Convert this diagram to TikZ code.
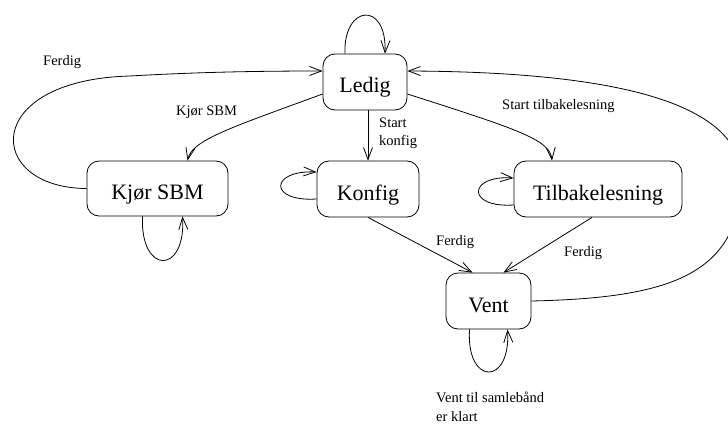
\documentclass[tikz,border=0pt]{standalone}
\usepackage{fontspec}
\setmainfont{Liberation Serif}
\usetikzlibrary{arrows.meta,calc}

\tikzset{
  state/.style={draw, line width=0.8pt, rounded corners=12pt, inner sep=0pt,
    text height=22pt, text depth=0pt,
    font=\fontsize{22}{26}\selectfont},
  lbl/.style={inner sep=0pt, anchor=base west, align=left,
    font=\fontsize{14.5}{18.5}\selectfont},
  edge/.style={line width=0.8pt, -{Straight Barb[length=12pt,width=9pt,line width=0.8pt]}},
}

\begin{document}
\begin{tikzpicture}[x=1pt,y=-1pt]
  \clip (0,0) rectangle (728,425);
  \fill[white] (0,0) rectangle (728,425);

  % states
  \node[state, minimum width=84pt,  minimum height=56pt] (ledig) at (365,82)    {Ledig};
  \node[state, minimum width=141pt, minimum height=55pt] (sbm)   at (157.5,188.5) {Kjør SBM};
  \node[state, minimum width=102pt, minimum height=56pt] (konf)  at (368,189)   {Konfig};
  \node[state, minimum width=168pt, minimum height=56pt] (tilb)  at (598,189)   {Tilbakelesning};
  \node[state, minimum width=85pt,  minimum height=56pt] (vent)  at (488.5,301) {Vent};

  % self loops
  \draw[edge] ($(ledig.north)+(-20,0)$) .. controls (343,5) and (387,0) .. ($(ledig.north)+(20,0)$);
  \draw[edge] ($(sbm.south)+(-15,0)$) .. controls (140,275) and (186,275) .. ($(sbm.south)+(25,0)$);
  \draw[edge] ($(konf.west)+(0,10)$) .. controls (268,202) and (270,170) .. ($(konf.west)+(0,-17)$);
  \draw[edge] ($(tilb.west)+(0,16)$) .. controls (466,208) and (468,175) .. ($(tilb.west)+(0,-11)$);
  \draw[edge] ($(vent.south)+(-19,0)$) .. controls (466,386) and (511,386) .. ($(vent.south)+(19,0)$);

  % transitions out of Ledig
  \draw[edge] ($(ledig.west)+(0,12)$) .. controls (230,128) and (192,140) .. ($(sbm.north)+(30,0)$);
  \draw[edge] (konf.north |- ledig.south) -- (konf.north);
  \draw[edge] ($(ledig.east)+(0,12)$) .. controls (520,130) and (550,140) .. ($(tilb.north)+(-46,0)$);

  % transitions back
  \draw[edge] (sbm.west) .. controls (-15,188) and (-20,80) .. (130,76)
              .. controls (200,72) and (260,71) .. ($(ledig.west)+(0,-11)$);
  \draw[edge] (konf.south) -- ($(vent.north)+(-16,0)$);
  \draw[edge] ($(tilb.south)+(-6,0)$) -- ($(vent.north)+(15,0)$);
  \draw[edge] (vent.east) .. controls (670,298) and (738,275) .. (742,180)
              .. controls (742,110) and (640,72) .. ($(ledig.east)+(0,-11)$);

  % labels (multi-line labels are placed by the baseline of their last line)
  \node[lbl] (l1) at (43,66)   {Ferdig};
  \node[lbl] (l2) at (176,116) {Kjør SBM};
  \node[lbl] (l3) at (379,146) {Start\\konfig};
  \node[lbl] (l4) at (502,110) {Start tilbakelesning};
  \node[lbl] (l5) at (436,245) {Ferdig};
  \node[lbl] (l6) at (564,256) {Ferdig};
  \node[lbl] (l7) at (436,421) {Vent til samlebånd\\er klart};
\end{tikzpicture}
\end{document}
